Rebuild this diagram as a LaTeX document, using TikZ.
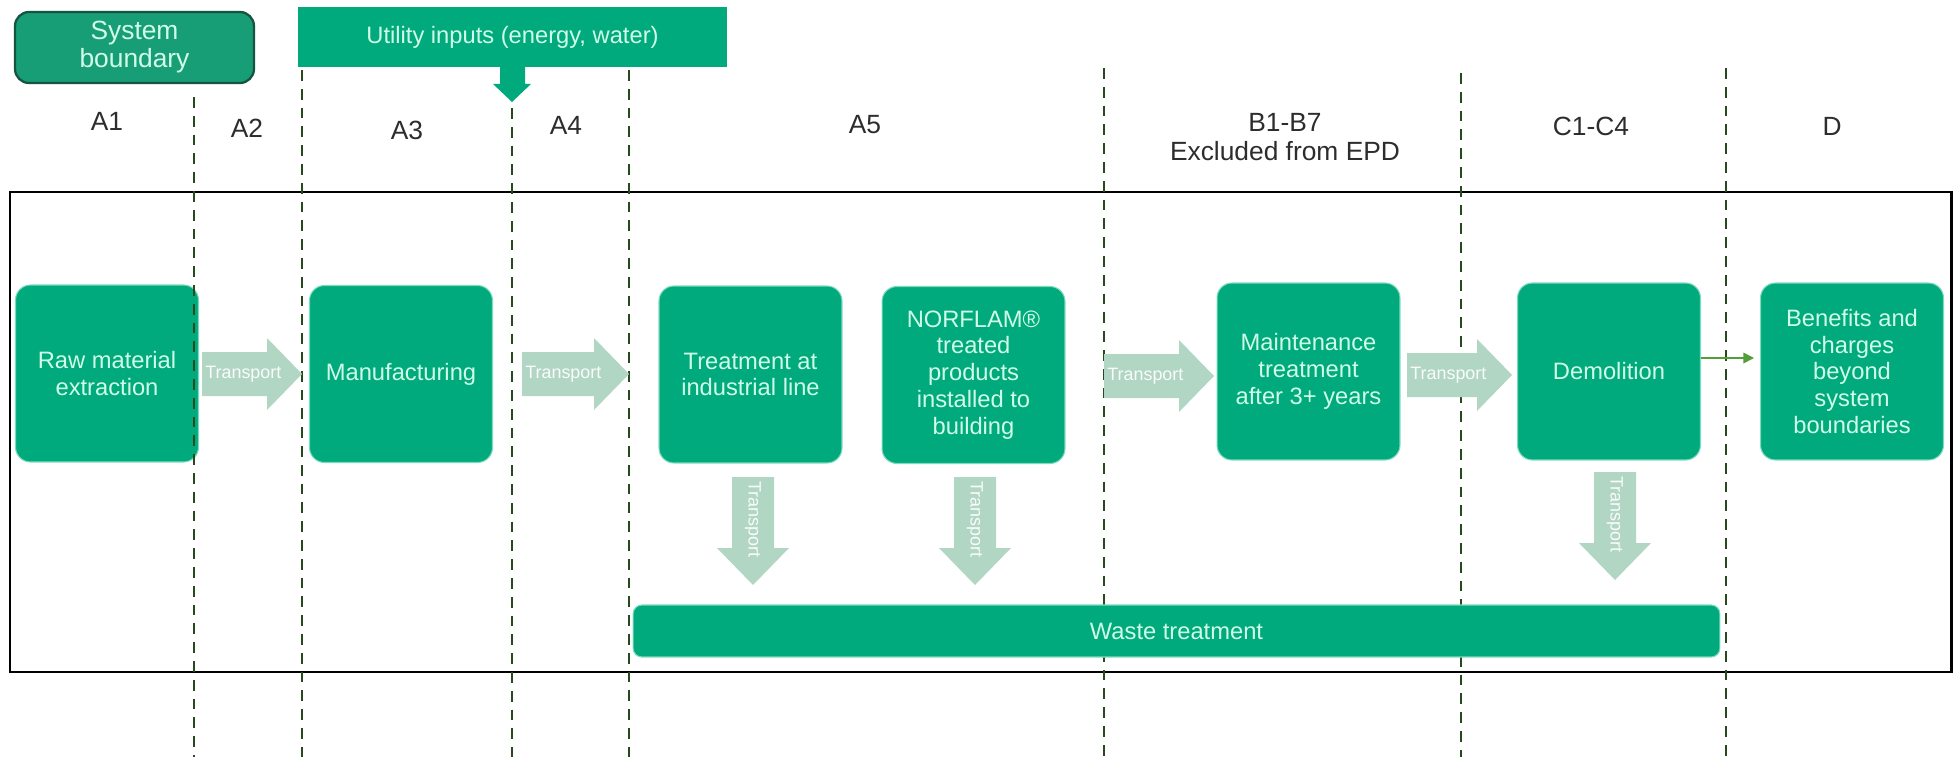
\documentclass[tikz,border=0pt]{standalone}
\usepackage{fontspec}
\setmainfont{Liberation Sans}
\usetikzlibrary{calc,arrows.meta}
\definecolor{boxgreen}{RGB}{0,170,124}
\definecolor{sbgreen}{RGB}{24,158,118}
\definecolor{sbedge}{RGB}{22,84,66}
\definecolor{mint}{RGB}{208,252,232}
\definecolor{trgreen}{RGB}{178,214,196}
\definecolor{dashgreen}{RGB}{40,72,30}
\definecolor{labelgrey}{RGB}{45,45,45}
\definecolor{olivegreen}{RGB}{84,158,58}
\newcommand\hblock[4]{%
  \fill[trgreen] (#1,{#3-22}) -- ({#2-35},{#3-22}) -- ({#2-35},{#3-36}) -- (#2,#3) -- ({#2-35},{#3+36}) -- ({#2-35},{#3+22}) -- (#1,{#3+22}) -- cycle;
  \node[trtext, anchor=west] (#4) at ({#1+3},#3) {Transport};
}
\newcommand\vblock[4]{%
  \fill[trgreen] ({#1-21},#2) -- ({#1+21},#2) -- ({#1+21},{#3-37}) -- ({#1+36},{#3-37}) -- (#1,#3) -- ({#1-36},{#3-37}) -- ({#1-21},{#3-37}) -- cycle;
  \node[trtext, anchor=west, rotate=-90] (#4) at (#1,{#2+4}) {Transport};
}
\begin{document}
\begin{tikzpicture}[x=0.02cm,y=-0.02cm,
  procbox/.style={fill=boxgreen, draw=mint!60!boxgreen, line width=0.6pt, rounded corners=8.5pt,
    text=mint, align=center, font=\fontsize{13.5}{15.3}\selectfont, inner sep=0pt,
    minimum width=3.66cm, minimum height=3.54cm},
  phaselabel/.style={text=labelgrey, align=center, font=\fontsize{15}{16.5}\selectfont, inner sep=0pt},
  trtext/.style={text=white!92!trgreen, font=\fontsize{10.2}{12}\selectfont, inner sep=0pt},
  dashline/.style={draw=dashgreen, line width=1.1pt, dash pattern=on 6.2pt off 4.5pt},
  frame/.style={draw=black, line width=1.7pt},
  garrow/.style={draw=olivegreen, line width=0.9pt, -{Triangle[length=6pt,width=6pt]}}]
\useasboundingbox (0,0) rectangle (1958,757);
\fill[white] (0,0) rectangle (1958,757);

% outer frame
\draw[frame] (10,192) rectangle (1951,672);

% first box (dashed line drawn over it)
\node[procbox] (raw) at (107,373.5) {Raw material\\extraction};

% stage separators
\draw[dashline] (194,97) -- (194,757);
\draw[dashline] (302,70) -- (302,757);
\draw[dashline] (512,108) -- (512,757);
\draw[dashline] (629,70) -- (629,757);
\draw[dashline] (1104,68) -- (1104,757);
\draw[dashline] (1461,73) -- (1461,757);
\draw[dashline] (1726,68) -- (1726,757);

% header boxes
\node[fill=sbgreen, draw=sbedge, line width=1.3pt, rounded corners=8pt, text=mint, align=center,
  font=\fontsize{15}{15.9}\selectfont, minimum width=4.78cm, minimum height=1.42cm, inner sep=0pt]
  (sb) at (134.5,47.5) {System\\boundary};
\node[fill=boxgreen, text=mint, font=\fontsize{13.5}{15}\selectfont, minimum width=8.58cm,
  minimum height=1.2cm, inner sep=0pt] (util) at (512.5,37) {Utility inputs (energy, water)};
\fill[boxgreen] (500,66) -- (525,66) -- (525,84) -- (531,84) -- (512,102) -- (493,84) -- (500,84) -- cycle;

% phase labels
\node[phaselabel] (la1) at (107,121) {A1};
\node[phaselabel] (la2) at (247,128) {A2};
\node[phaselabel] (la3) at (407,130) {A3};
\node[phaselabel] (la4) at (566,125) {A4};
\node[phaselabel] (la5) at (865,125) {A5};
\node[phaselabel] (lb) at (1285,137) {B1-B7\\Excluded from EPD};
\node[phaselabel] (lc) at (1591,126) {C1-C4};
\node[phaselabel] (ld) at (1832,126) {D};

% process boxes
\node[procbox] (manu) at (401,374) {Manufacturing};
\node[procbox] (treat) at (750.5,374.5) {Treatment at\\industrial line};
\node[procbox] (norf) at (973.5,375) {NORFLAM®\\treated\\products\\installed to\\building};
\node[procbox] (maint) at (1308.5,371.5) {Maintenance\\treatment\\after 3+ years};
\node[procbox] (demo) at (1609,371.5) {Demolition};
\node[procbox] (ben) at (1852,371.5) {Benefits and\\charges\\beyond\\system\\boundaries};
\node[procbox, rounded corners=5pt, minimum width=21.74cm, minimum height=1.04cm] (waste) at (1176.5,631) {Waste treatment};

% transport arrows
\hblock{202}{302}{374}{t1}
\hblock{522}{629}{374}{t2}
\hblock{1104}{1214}{376}{t3}
\hblock{1407}{1512}{375}{t4}
\vblock{753}{477}{585}{t5}
\vblock{975}{477}{585}{t6}
\vblock{1615}{472}{580}{t7}

% link to module D
\coordinate (dtip) at (1754,358);
\draw[garrow] (demo.east |- dtip) -- (dtip);
\end{tikzpicture}
\end{document}
